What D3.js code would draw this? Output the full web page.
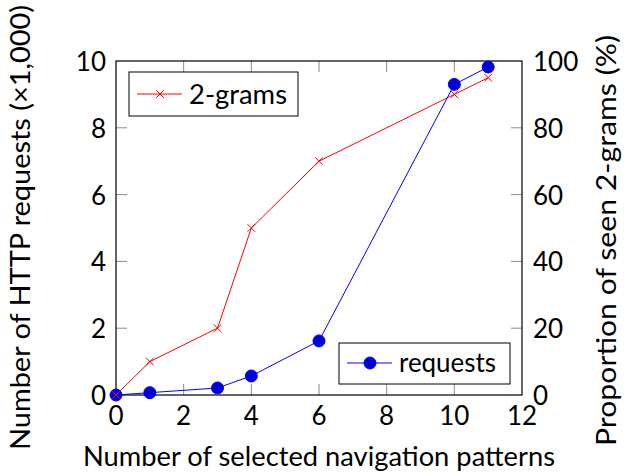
<!DOCTYPE html>
<html>
<head>
<meta charset="utf-8">
<script src="https://cdn.jsdelivr.net/npm/d3@7"></script>
<style>
  body { margin: 0; background: #fff; }
  text { font-family: Lato, "Open Sans", sans-serif; fill: #000; }
</style>
</head>
<body>
<script>
const patterns = [0, 1, 3, 4, 6, 10, 11];
const requests = [0, 0.07, 0.21, 0.57, 1.62, 9.3, 9.82];
const seen2grams = [0, 10, 20, 50, 70, 90, 95];
const xTicks = [0, 2, 4, 6, 8, 10, 12];
const yLeftTicks = [0, 2, 4, 6, 8, 10];
const yRightTicks = [0, 20, 40, 60, 80, 100];

const width = 625;
const height = 473;
const margin = {top: 61, right: 103, bottom: 78, left: 116};

const svg = d3.select('body').append('svg')
  .attr('width', width)
  .attr('height', height);

const x = d3.scaleLinear().domain([0, 12]).range([margin.left, width - margin.right]);
const yL = d3.scaleLinear().domain([0, 10]).range([height - margin.bottom, margin.top]);
const yR = d3.scaleLinear().domain([0, 100]).range([height - margin.bottom, margin.top]);

const x0 = x(0), x1 = x(12), yb = yL(0), yt = yL(10);
const tickLen = 11;
const tickColor = '#8c8c8c';
const tickFont = 26;
const titleFont = 27;

// inner ticks on all four sides
const ticks = svg.append('g').attr('stroke', tickColor).attr('stroke-width', 1);
xTicks.slice(1, -1).forEach((t) => {
  ticks.append('line').attr('x1', x(t)).attr('x2', x(t)).attr('y1', yb).attr('y2', yb - tickLen);
  ticks.append('line').attr('x1', x(t)).attr('x2', x(t)).attr('y1', yt).attr('y2', yt + tickLen);
});
yLeftTicks.slice(1, -1).forEach((t) => {
  ticks.append('line').attr('x1', x0).attr('x2', x0 + tickLen).attr('y1', yL(t)).attr('y2', yL(t));
});
yRightTicks.slice(1, -1).forEach((t) => {
  ticks.append('line').attr('x1', x1).attr('x2', x1 - tickLen).attr('y1', yR(t)).attr('y2', yR(t));
});

// frame
svg.append('rect')
  .attr('x', x0).attr('y', yt)
  .attr('width', x1 - x0).attr('height', yb - yt)
  .attr('fill', 'none')
  .attr('stroke', '#000')
  .attr('stroke-width', 1.2);

// tick labels
svg.append('g').selectAll('text')
  .data(xTicks).join('text')
  .attr('x', (d) => x(d))
  .attr('y', yb + 30)
  .attr('text-anchor', 'middle')
  .style('font-size', tickFont + 'px')
  .text((d) => d);

svg.append('g').selectAll('text')
  .data(yLeftTicks).join('text')
  .attr('x', x0 - 10)
  .attr('y', (d) => yL(d) + 10)
  .attr('text-anchor', 'end')
  .style('font-size', tickFont + 'px')
  .text((d) => d);

svg.append('g').selectAll('text')
  .data(yRightTicks).join('text')
  .attr('x', x1 + 11)
  .attr('y', (d) => yR(d) + 10)
  .attr('text-anchor', 'start')
  .style('font-size', tickFont + 'px')
  .text((d) => d);

// axis titles
svg.append('text')
  .attr('x', 83)
  .attr('y', 466)
  .attr('textLength', 472)
  .attr('lengthAdjust', 'spacingAndGlyphs')
  .style('font-size', titleFont + 'px')
  .text('Number of selected navigation patterns');

svg.append('text')
  .attr('transform', 'translate(30,450) rotate(-90)')
  .attr('textLength', 445)
  .attr('lengthAdjust', 'spacingAndGlyphs')
  .style('font-size', titleFont + 'px')
  .text('Number of HTTP requests (\u00d71,000)');

svg.append('text')
  .attr('transform', 'translate(616,446) rotate(-90)')
  .attr('textLength', 411)
  .attr('lengthAdjust', 'spacingAndGlyphs')
  .style('font-size', titleFont + 'px')
  .text('Proportion of seen 2-grams (%)');

// series
const redPts = patterns.map((p, i) => [p, seen2grams[i]]);
const bluePts = patterns.map((p, i) => [p, requests[i]]);

svg.append('path')
  .datum(redPts)
  .attr('fill', 'none')
  .attr('stroke', '#ff0000')
  .attr('stroke-width', 1)
  .attr('d', d3.line().x((d) => x(d[0])).y((d) => yR(d[1])));

svg.append('path')
  .datum(bluePts)
  .attr('fill', 'none')
  .attr('stroke', '#0000ff')
  .attr('stroke-width', 1)
  .attr('d', d3.line().x((d) => x(d[0])).y((d) => yL(d[1])));

svg.append('g').selectAll('circle')
  .data(bluePts).join('circle')
  .attr('cx', (d) => x(d[0]))
  .attr('cy', (d) => yL(d[1]))
  .attr('r', 6)
  .attr('fill', '#0000d8')
  .attr('stroke', '#0000ff');

const cross = d3.symbol().type(d3.symbolX).size(40);
svg.append('g').selectAll('path')
  .data(redPts).join('path')
  .attr('transform', (d) => `translate(${x(d[0])},${yR(d[1])})`)
  .attr('d', cross)
  .attr('fill', 'none')
  .attr('stroke', '#ff0000')
  .attr('stroke-width', 1);

// legends
const leg1 = svg.append('g').attr('transform', 'translate(129,72)');
leg1.append('rect').attr('width', 169).attr('height', 44)
  .attr('fill', '#fff').attr('stroke', '#000').attr('stroke-width', 1);
leg1.append('line').attr('x1', 8).attr('x2', 53).attr('y1', 22).attr('y2', 22)
  .attr('stroke', '#ff0000');
leg1.append('path').attr('transform', 'translate(31,22)').attr('d', cross)
  .attr('fill', 'none').attr('stroke', '#ff0000');
leg1.append('text').attr('x', 60).attr('y', 32)
  .attr('textLength', 98)
  .attr('lengthAdjust', 'spacingAndGlyphs')
  .style('font-size', titleFont + 'px').text('2-grams');

const leg2 = svg.append('g').attr('transform', 'translate(339,343)');
leg2.append('rect').attr('width', 171).attr('height', 41)
  .attr('fill', '#fff').attr('stroke', '#000').attr('stroke-width', 1);
leg2.append('line').attr('x1', 8).attr('x2', 53).attr('y1', 20).attr('y2', 20)
  .attr('stroke', '#0000ff');
leg2.append('circle').attr('cx', 31).attr('cy', 20).attr('r', 6)
  .attr('fill', '#0000d8').attr('stroke', '#0000ff');
leg2.append('text').attr('x', 60).attr('y', 29)
  .attr('textLength', 97)
  .attr('lengthAdjust', 'spacingAndGlyphs')
  .style('font-size', titleFont + 'px').text('requests');
</script>
</body>
</html>
